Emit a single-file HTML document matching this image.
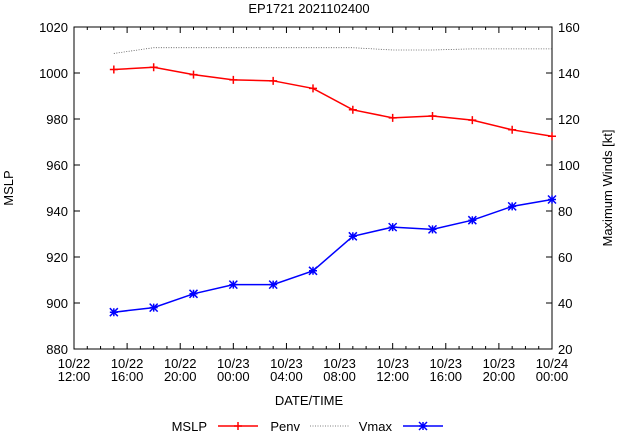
<!DOCTYPE html>
<html><head><meta charset="utf-8"><style>
html,body{margin:0;padding:0;background:#fff}
svg text{font-family:"Liberation Sans",sans-serif;font-size:13px;fill:#000}
</style></head><body>
<svg id="chart" width="619" height="432" xmlns="http://www.w3.org/2000/svg">
<text x="309" y="13" text-anchor="middle">EP1721 2021102400</text>
<g id="axes"></g><g id="series"></g>
<text x="309" y="405" text-anchor="middle">DATE/TIME</text>
<text transform="translate(13,188) rotate(-90)" text-anchor="middle">MSLP</text>
<text transform="translate(612,188) rotate(-90)" text-anchor="middle">Maximum Winds [kt]</text>
<g>
<text x="207" y="431" text-anchor="end">MSLP</text>
<line x1="218" y1="426" x2="258" y2="426" stroke="#f00" stroke-width="1.5"/>
<path d="M234,426h8M238,422v8" stroke="#f00" stroke-width="1.5"/>
<text x="300" y="431" text-anchor="end">Penv</text>
<line x1="310" y1="426" x2="350" y2="426" stroke="#555" stroke-width="0.8" stroke-dasharray="1,1.5"/>
<text x="392" y="431" text-anchor="end">Vmax</text>
<line x1="403" y1="426" x2="443" y2="426" stroke="#00f" stroke-width="1.5"/>
<path d="M419,422l8,8M427,422l-8,8M419,426h8M423,422v8" stroke="#00f" stroke-width="1.5"/>
</g>
</svg>
<script>
const times=[3,6,9,12,15,18,21,24,27,30,33,36]; // hours since 10/22 12:00
const mslp=[1001.5,1002.5,999.3,997,996.6,993.3,984,980.5,981.3,979.5,975.3,972.5];
const penv=[1008.5,1011,1011,1011,1011,1011,1011,1010,1010,1010.5,1010.5,1010.5];
const vmax=[36,38,44,48,48,54,69,73,72,76,82,85];
const yTicks=[880,900,920,940,960,980,1000,1020];
const y2Ticks=[20,40,60,80,100,120,140,160];
const xTickHours=[0,4,8,12,16,20,24,28,32,36];
const xTickLabels=[["10/22","12:00"],["10/22","16:00"],["10/22","20:00"],["10/23","00:00"],["10/23","04:00"],["10/23","08:00"],["10/23","12:00"],["10/23","16:00"],["10/23","20:00"],["10/24","00:00"]];
const L=74,R=552,T=27,B=349,NS="http://www.w3.org/2000/svg";
const x=h=>L+(R-L)*h/36;
const y=v=>B-(B-T)*(v-880)/140;
const y2=v=>B-(B-T)*(v-20)/140;
function mk(t,a,p){const e=document.createElementNS(NS,t);for(const k in a)e.setAttribute(k,a[k]);p.appendChild(e);return e;}
const ax=document.getElementById('axes'),se=document.getElementById('series');
const frame=mk('rect',{x:L,y:T,width:R-L,height:B-T,fill:'none',stroke:'#000','stroke-width':1},ax);


yTicks.forEach(v=>{mk('line',{x1:L,x2:L+6,y1:y(v),y2:y(v),stroke:'#000'},ax);
 const t=mk('text',{x:L-6,y:y(v)+5,'text-anchor':'end'},ax);t.textContent=v;
 
 });
y2Ticks.forEach(v=>{mk('line',{x1:R-6,x2:R,y1:y2(v),y2:y2(v),stroke:'#000'},ax);
 const t=mk('text',{x:R+6,y:y2(v)+5},ax);t.textContent=v;
 
 });
for(let h=1;h<36;h++){const len=h%4==0?6:3;
 mk('line',{x1:x(h),x2:x(h),y1:B,y2:B-len,stroke:'#000'},ax);
 mk('line',{x1:x(h),x2:x(h),y1:T,y2:T+len,stroke:'#000'},ax);}
xTickHours.forEach((h,i)=>{[0,1].forEach(j=>{const t=mk('text',{x:x(h),y:368+j*13,'text-anchor':'middle'},ax);t.textContent=xTickLabels[i][j];
 
 });});
function line(vals,fy,color,dash,w,name){const p=mk('polyline',{points:vals.map((v,i)=>x(times[i])+','+fy(v)).join(' '),fill:'none',stroke:color,'stroke-width':w},se);
 if(dash)p.setAttribute('stroke-dasharray',dash);
 
 }
line(penv,y,'#555','1,1.5',0.8,'penv-line');
line(mslp,y,'#f00',null,1.5,'mslp-line');
line(vmax,y2,'#00f',null,1.5,'vmax-line');
mslp.forEach((v,i)=>{const px=x(times[i]),py=y(v);
 const m=mk('path',{d:`M${px-4},${py}h8M${px},${py-4}v8`,stroke:'#f00','stroke-width':1.5},se);
 
 });
vmax.forEach((v,i)=>{const px=x(times[i]),py=y2(v);
 const m=mk('path',{d:`M${px-4},${py-4}l8,8M${px+4},${py-4}l-8,8M${px-4},${py}h8M${px},${py-4}v8`,stroke:'#00f','stroke-width':1.5},se);
 
 });
</script>
</body></html>
